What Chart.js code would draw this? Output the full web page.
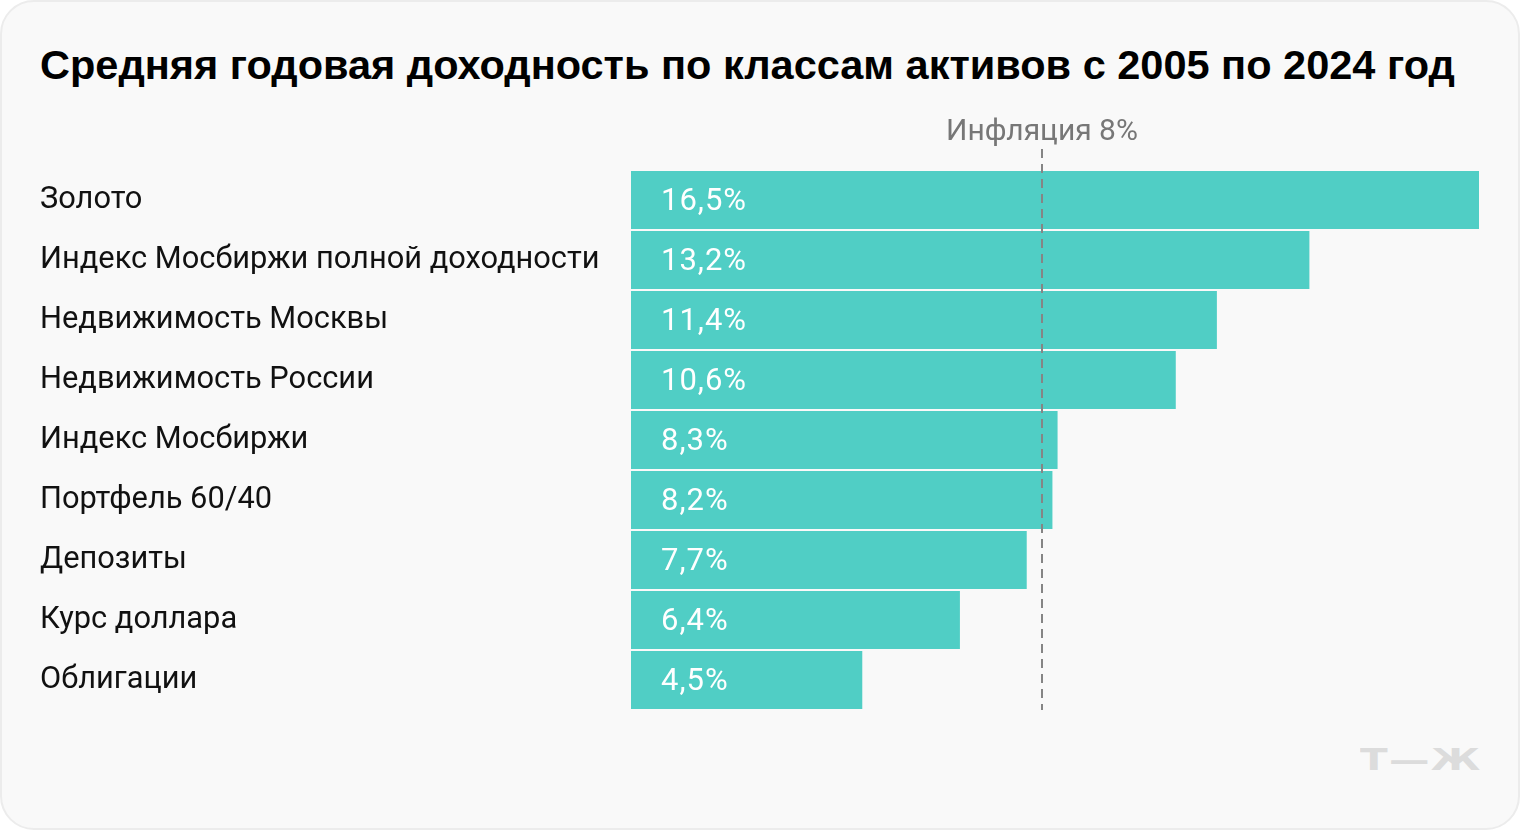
<!DOCTYPE html>
<html lang="ru">
<head>
<meta charset="utf-8">
<script src="https://cdn.jsdelivr.net/npm/chart.js@4"></script>
<style>
    html, body { margin: 0; padding: 0; background: #ffffff; }
    #card {
        position: absolute; left: 0; top: 0;
        width: 1516px; height: 826px;
        background: #f9f9f9;
        border: 2px solid #ececec;
        border-radius: 34px;
        overflow: hidden;
    }
    #title {
        position: absolute; left: 40px; top: 41px;
        font-family: "Liberation Sans", Arial, sans-serif;
        font-weight: bold; font-size: 41.5px; color: #000;
        white-space: nowrap;
    }
    #logo {
        position: absolute; left: 1360px; top: 742px;
        font-family: "DejaVu Sans", sans-serif;
        font-weight: 900; font-size: 30px; color: #dcdcdc;
        letter-spacing: 1px; transform: scaleX(1.35); transform-origin: left;
    }
    #wrap { position: absolute; left: 0; top: 0; width: 1520px; height: 830px; }
</style>
</head>
<body>
<div id="card"></div>
<div id="title">Средняя годовая доходность по классам активов с 2005 по 2024 год</div>
<div id="logo">Т—Ж</div>
<div id="wrap"><canvas id="myChart"></canvas></div>
<script>
var labels = ["Золото", "Индекс Мосбиржи полной доходности", "Недвижимость Москвы",
    "Недвижимость России", "Индекс Мосбиржи", "Портфель 60/40", "Депозиты",
    "Курс доллара", "Облигации"];
var values = [16.5, 13.2, 11.4, 10.6, 8.3, 8.2, 7.7, 6.4, 4.5];
var inflation = 8;
var inflationLabel = "Инфляция 8%";

var labelFont = '"Roboto", sans-serif';

// value text inside bars + inflation line
var extras = {
    id: 'extras',
    afterDatasetsDraw: function(chart) {
        var ctx = chart.ctx;
        var meta = chart.getDatasetMeta(0);
        var x = chart.scales.x;
        ctx.save();
        ctx.font = '31px ' + labelFont;
        ctx.letterSpacing = '1px';
        ctx.fillStyle = '#ffffff';
        ctx.textBaseline = 'middle';
        ctx.textAlign = 'left';
        meta.data.forEach(function(bar, i) {
            ctx.fillText(values[i].toString().replace('.', ',') + '%', bar.base + 30, bar.y + 2);
        });

        var px = Math.round(x.getPixelForValue(inflation));
        ctx.strokeStyle = '#858585';
        ctx.lineWidth = 2;
        ctx.setLineDash([9, 6]);
        ctx.beginPath();
        ctx.moveTo(px, 149);
        ctx.lineTo(px, chart.chartArea.bottom);
        ctx.stroke();

        ctx.setLineDash([]);
        ctx.letterSpacing = '0px';
        ctx.font = '30px ' + labelFont;
        ctx.fillStyle = '#777777';
        ctx.textAlign = 'center';
        ctx.textBaseline = 'alphabetic';
        ctx.fillText(inflationLabel, px, 140);
        ctx.restore();
    }
};

function renderChart() {
    var ctx = document.getElementById("myChart").getContext('2d');
    new Chart(ctx, {
        type: 'bar',
        data: {
            labels: labels,
            datasets: [{
                data: values,
                backgroundColor: '#50cec5',
                borderWidth: 0,
                barPercentage: 0.967,
                categoryPercentage: 1
            }]
        },
        options: {
            indexAxis: 'y',
            responsive: true,
            maintainAspectRatio: false,
            animation: false,
            layout: { padding: { top: 170, bottom: 120, left: 40, right: 41 } },
            plugins: { legend: { display: false }, tooltip: { enabled: false } },
            scales: {
                x: { display: false, min: 0, max: 16.5 },
                y: {
                    grid: { display: false },
                    border: { display: false },
                    afterFit: function(scale) { scale.width = 591; },
                    ticks: {
                        crossAlign: 'far',
                        color: '#111111',
                        font: { family: labelFont, size: 30.8 }
                    }
                }
            }
        },
        plugins: [extras]
    });
}

document.addEventListener("DOMContentLoaded", renderChart);
</script>
</body>
</html>
